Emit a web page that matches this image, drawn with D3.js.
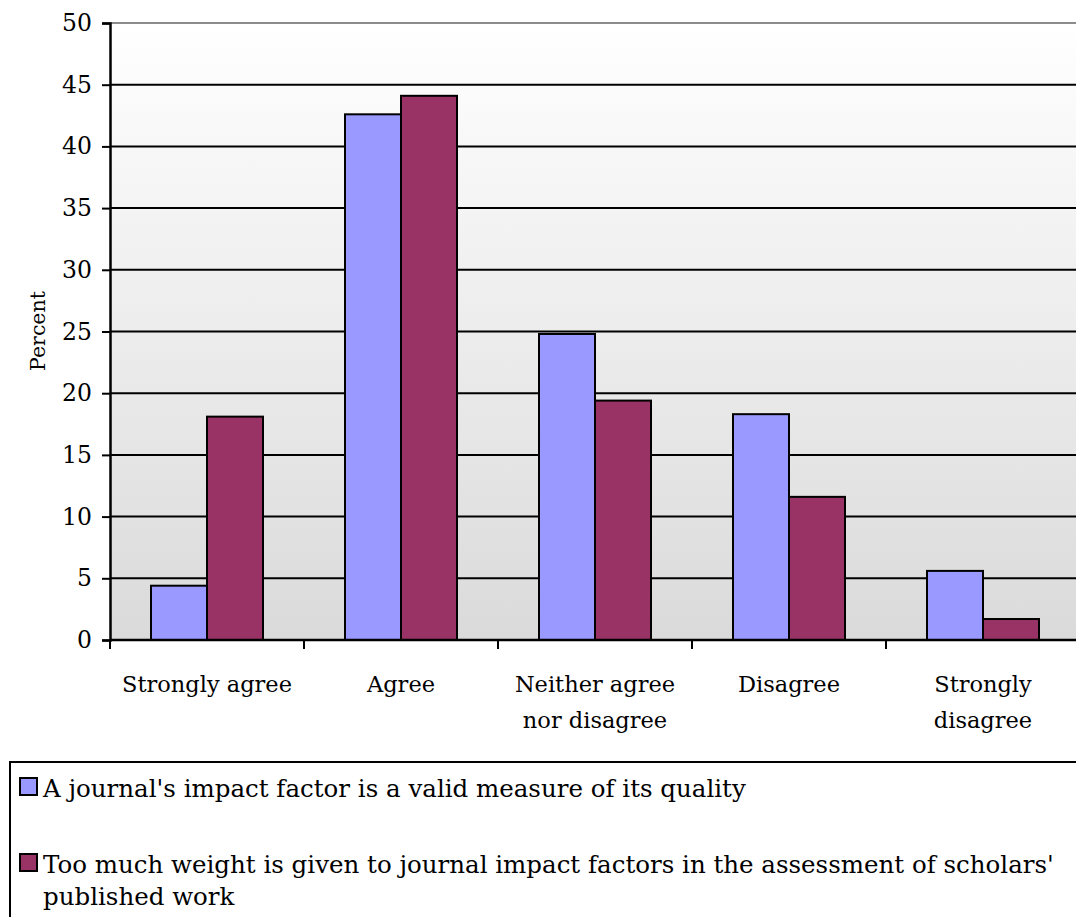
<!DOCTYPE html>
<html><head><meta charset="utf-8">
<script src="https://cdn.jsdelivr.net/npm/d3@7"></script>
<style>body{margin:0;background:#fff}svg{display:block}text{font-family:"DejaVu Serif","Liberation Serif",serif;fill:#000}</style>
</head><body>
<svg id="c" width="1076" height="917"></svg>
<script>
const categories = [["Strongly agree"],["Agree"],["Neither agree","nor disagree"],["Disagree"],["Strongly","disagree"]];
const seriesNames = ["A journal's impact factor is a valid measure of its quality",
  "Too much weight is given to journal impact factors in the assessment of scholars'|published work"];
const validMeasure = [4.4, 42.6, 24.8, 18.3, 5.6];
const tooMuchWeight = [18.1, 44.1, 19.4, 11.6, 1.7];
const yTicks = [0,5,10,15,20,25,30,35,40,45,50];
const colors = ["#9999ff","#993366"];

const svg = d3.select("#c");
const L=110, R=1080, T=23, B=640;
const x = d3.scaleBand().domain(d3.range(categories.length)).range([L,R]).paddingInner(0).paddingOuter(0);
const y = d3.scaleLinear().domain([0,50]).range([B,T]);

const defs = svg.append("defs");
const g = defs.append("linearGradient").attr("id","bg").attr("x1",0).attr("y1",0).attr("x2",0).attr("y2",1);
g.append("stop").attr("offset","0%").attr("stop-color","#ffffff");
g.append("stop").attr("offset","100%").attr("stop-color","#dadada");
svg.append("rect").attr("x",L).attr("y",T).attr("width",R-L).attr("height",B-T).attr("fill","url(#bg)");

// gridlines
svg.append("g").selectAll("line").data(yTicks.filter(d=>d>0)).join("line")
  .attr("x1",L).attr("x2",R).attr("y1",d=>y(d)).attr("y2",d=>y(d))
  .attr("stroke",d=>d===50?"#8c8c8c":"#000").attr("stroke-width",2);

// bars
const series = [validMeasure, tooMuchWeight];
series.forEach((vals,si)=>{
  svg.append("g").selectAll("rect").data(vals).join("rect")
    .attr("x",(d,i)=>x(i)+ (x.bandwidth()-112)/2 + si*56)
    .attr("width",56)
    .attr("y",d=>y(d)).attr("height",d=>B-y(d))
    .attr("fill",colors[si]).attr("stroke","#000").attr("stroke-width",2);
});

// y axis
const ya = svg.append("g").attr("transform",`translate(${L},0)`)
  .call(d3.axisLeft(y).tickValues(yTicks).tickSize(8).tickPadding(10));
ya.select(".domain").attr("stroke","#000").attr("stroke-width",2.5);
ya.selectAll(".tick line").attr("stroke","#000").attr("stroke-width",2);
ya.selectAll(".tick text").attr("font-size",23.5).attr("font-family","DejaVu Serif").attr("fill","#000");

// x axis
const xa = svg.append("g").attr("transform",`translate(0,${B})`);
xa.append("line").attr("x1",L).attr("x2",R).attr("stroke","#000").attr("stroke-width",2.5);
xa.selectAll("line.t").data(d3.range(categories.length+1)).join("line").attr("class","t")
  .attr("x1",i=>L+i*x.bandwidth()).attr("x2",i=>L+i*x.bandwidth()).attr("y1",0).attr("y2",9)
  .attr("stroke","#000").attr("stroke-width",2);
categories.forEach((lines,i)=>{
  const t = xa.append("text").attr("text-anchor","middle").attr("font-size",22.5)
    .attr("x",x(i)+x.bandwidth()/2).attr("y",52);
  lines.forEach((ln,k)=>t.append("tspan").attr("x",x(i)+x.bandwidth()/2).attr("dy",k?36:0).text(ln));
});

// y title
svg.append("text").attr("transform","translate(45,331) rotate(-90)").attr("text-anchor","middle")
  .attr("font-size",20.5).text("Percent");

// legend
svg.append("rect").attr("x",10).attr("y",762).attr("width",1080).attr("height",200)
  .attr("fill","#fff").attr("stroke","#000").attr("stroke-width",2);
const legY = [797, 873];
seriesNames.forEach((name,si)=>{
  svg.append("rect").attr("x",20).attr("y",legY[si]-19).attr("width",17).attr("height",17)
    .attr("fill",colors[si]).attr("stroke","#000").attr("stroke-width",2);
  const t = svg.append("text").attr("x",43).attr("y",legY[si]).attr("font-size",24.5);
  name.split("|").forEach((ln,k)=>t.append("tspan").attr("x",43).attr("dy",k?32:0).text(ln));
});
</script>
</body></html>
